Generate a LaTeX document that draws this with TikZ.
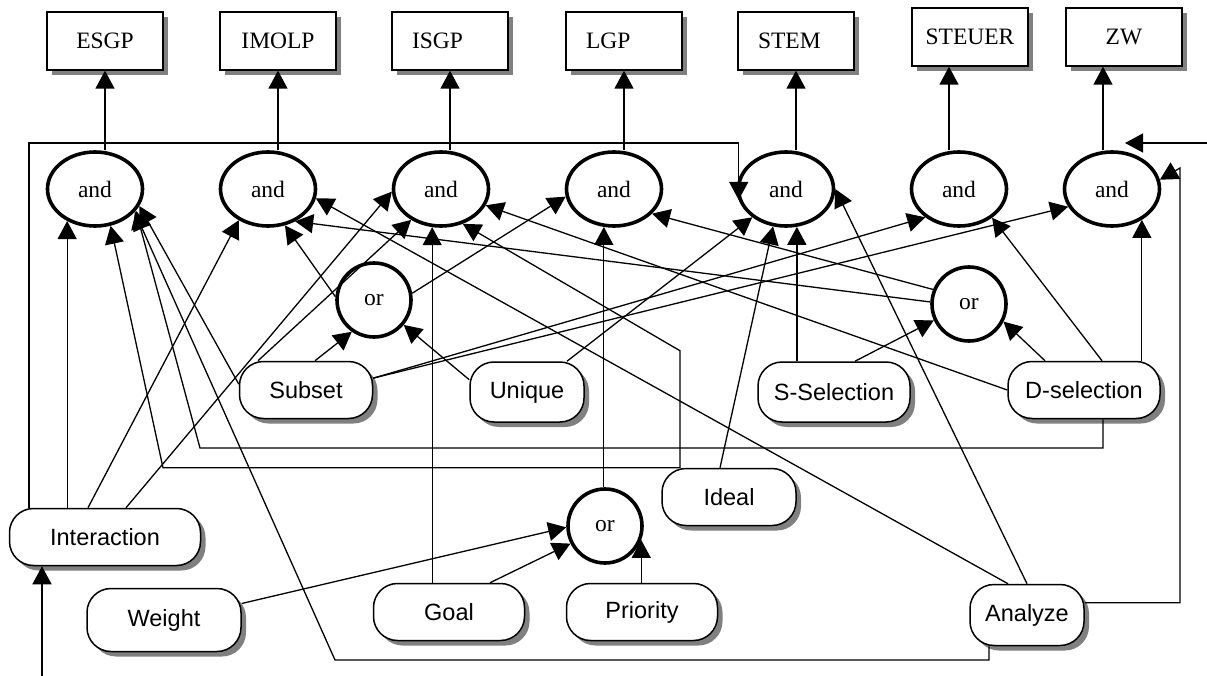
\documentclass[tikz,border=0pt]{standalone}
\usepackage{fontspec}
\setmainfont{Liberation Serif}
\setsansfont{Liberation Sans}
\usetikzlibrary{arrows.meta,shapes.geometric,shadows}

\newcommand{\rmlab}{\rmfamily\fontsize{23.5}{27}\selectfont}
\newcommand{\sflab}{\sffamily\fontsize{23.5}{27}\selectfont}

\begin{document}
\begin{tikzpicture}[x=1pt, y=-1pt,
    target/.style={draw, line width=1.3pt, fill=white, minimum width=116pt, minimum height=58pt,
      inner sep=0pt, font=\rmlab, drop shadow={shadow xshift=5pt, shadow yshift=-5pt, fill=gray, opacity=1}},
    lefttext/.style={text width=76pt, align=left},
    gate/.style={ellipse, draw, line width=3.6pt, minimum width=95pt, minimum height=74pt, inner sep=0pt, font=\rmlab},
    orgate/.style={circle, draw, line width=3.6pt, minimum size=74pt, inner sep=0pt, font=\rmlab},
    crit/.style={draw, rounded corners=24pt, line width=1.5pt, fill=white, minimum height=57pt,
      inner sep=0pt, font=\sflab, drop shadow={shadow xshift=5pt, shadow yshift=-5pt, fill=gray, opacity=1}},
    arr/.style={-{Triangle[length=18pt, width=19pt]}, line width=1.3pt}]
  \useasboundingbox (0,0) rectangle (1207,676);

  % Output boxes
  \node[target] (esgp) at (105,41) {ESGP};
  \node[target] (imolp) at (278,41) {IMOLP};
  \node[target, lefttext] (isgp) at (450,41) {ISGP};
  \node[target, lefttext] (lgp) at (624,41) {LGP};
  \node[target, lefttext] (stem) at (796,41) {STEM};
  \node[target] (steuer) at (970,37) {STEUER};
  \node[target] (zw) at (1124,37) {ZW};

  % and / or gates
  \node[gate] (and1) at (95,189) {and};
  \node[gate] (and2) at (268,189) {and};
  \node[gate] (and3) at (441,189) {and};
  \node[gate] (and4) at (614,189) {and};
  \node[gate] (and5) at (786,189) {and};
  \node[gate] (and6) at (959,189) {and};
  \node[gate] (and7) at (1112,189) {and};
  \node[orgate] (or1) at (374,300) {or};
  \node[orgate] (or2) at (969,304) {or};
  \node[orgate] (or3) at (605,526) {or};

  % Criteria
  \node[crit, minimum width=133pt] (subset) at (306,390) {Subset};
  \node[crit, minimum width=114pt, minimum height=60pt] (unique) at (527,392) {Unique};
  \node[crit, minimum width=152pt, minimum height=60pt] (ssel) at (834,392) {S-Selection};
  \node[crit, minimum width=152pt] (dsel) at (1084,390) {D-selection};
  \node[crit, minimum width=134pt] (ideal) at (729,497) {Ideal};
  \node[crit, minimum width=191pt] (inter) at (105,537) {Interaction};
  \node[crit, minimum width=154pt, minimum height=63pt] (weight) at (164,620) {Weight};
  \node[crit, minimum width=151pt] (goal) at (449,612) {Goal};
  \node[crit, minimum width=151pt] (prio) at (642,612) {Priority};
  \node[crit, minimum width=114pt, minimum height=61pt] (analyze) at (1027,615) {Analyze};

  % gate -> output
  \draw[arr] (esgp.south |- and1.north) -- (esgp.south);
  \draw[arr] (imolp.south |- and2.north) -- (imolp.south);
  \draw[arr] (isgp.south |- and3.north) -- (isgp.south);
  \draw[arr] (lgp.south |- and4.north) -- (lgp.south);
  \draw[arr] (stem.south |- and5.north) -- (stem.south);
  \coordinate (s6) at ([xshift=-10]and6.north);
  \coordinate (s7) at ([xshift=-9]and7.north);
  \draw[arr] (s6) -- (s6 |- steuer.south);
  \draw[arr] (s7) -- (s7 |- zw.south);

  % free arrows
  \coordinate (inp) at (42,676);
  \draw[arr] (inp) -- (inp |- inter.south);
  \coordinate (rin) at (1207,143);
  \coordinate (rtip) at (1125,143);
  \draw[arr] (rin) -- (rtip);

  % Interaction
  \coordinate (bar) at (0,143);
  \draw[arr] ([xshift=-76]inter.north) |- (bar -| and5.193) -- (and5.193);
  \draw[arr] (inter.north -| and1.229) -- (and1.229);
  \draw[arr] ([xshift=-17]inter.north) -- (and2.227);
  \draw[arr] ([xshift=21]inter.north) -- (and3.183);

  % Subset, Unique, S-Selection
  \draw[arr] (subset.175) -- (and1.339);
  \draw[arr] ([xshift=-48]subset.north) -- (and3.226);
  \draw[arr] ([xshift=9]subset.north) -- (or1.235);
  \draw[arr] (subset.10) -- (and6.220);
  \draw[arr] (subset.10) -- (and7.202);
  \draw[arr] (unique.168) -- (or1.320);
  \draw[arr] ([xshift=40]unique.north) -- (and5.220);
  \draw[arr] (ssel.north -| and5.286) -- (and5.286);
  \draw[arr] ([xshift=21]ssel.north) -- (or2.205);

  % D-selection
  \draw[arr] (dsel.west) -- (and3.340);
  \draw[arr] ([xshift=-39]dsel.north) -- (or2.333);
  \draw[arr] ([xshift=18]dsel.north) -- (and6.319);
  \draw[arr] (dsel.north -| and7.314) -- (and7.314);
  \draw[arr] ([xshift=19]dsel.south) |- (200,448) -- (and1.332);

  % Ideal
  \coordinate (idl) at ([xshift=-49]ideal.north);
  \draw[arr] (idl) -- +(0,-117) -- (and3.302);
  \draw[arr] (idl) -- +(-517,0) -- (and1.293);
  \draw[arr] ([xshift=-9]ideal.north) -- (and5.251);

  % Analyze
  \draw[arr] ([xshift=-19]analyze.north) -- (and2.349);
  \draw[arr] (analyze.north) -- (and5.0);
  \draw[arr] (analyze.12) -| (1180,168) -- (and7.11);
  \draw[arr] ([xshift=-38]analyze.south) |- (335,660) -- (and1.330);

  % or gates
  \draw[arr] (or1.175) -- (and2.295);
  \draw[arr] (or1.10) -- (and4.189);
  \draw[arr] (or2.158) -- (and4.327);
  \draw[arr] (or2.177) -- (and2.310);
  \draw[arr] (and4.255 |- or3.north) -- (and4.255);
  \draw[arr] (weight.12) -- (or3.182);
  \draw[arr] ([xshift=41]goal.north) -- (or3.207);
  \draw[arr] (prio.north -| or3.339) -- (or3.339);
  \draw[arr] (goal.north -| and3.257) -- (and3.257);
\end{tikzpicture}
\end{document}
